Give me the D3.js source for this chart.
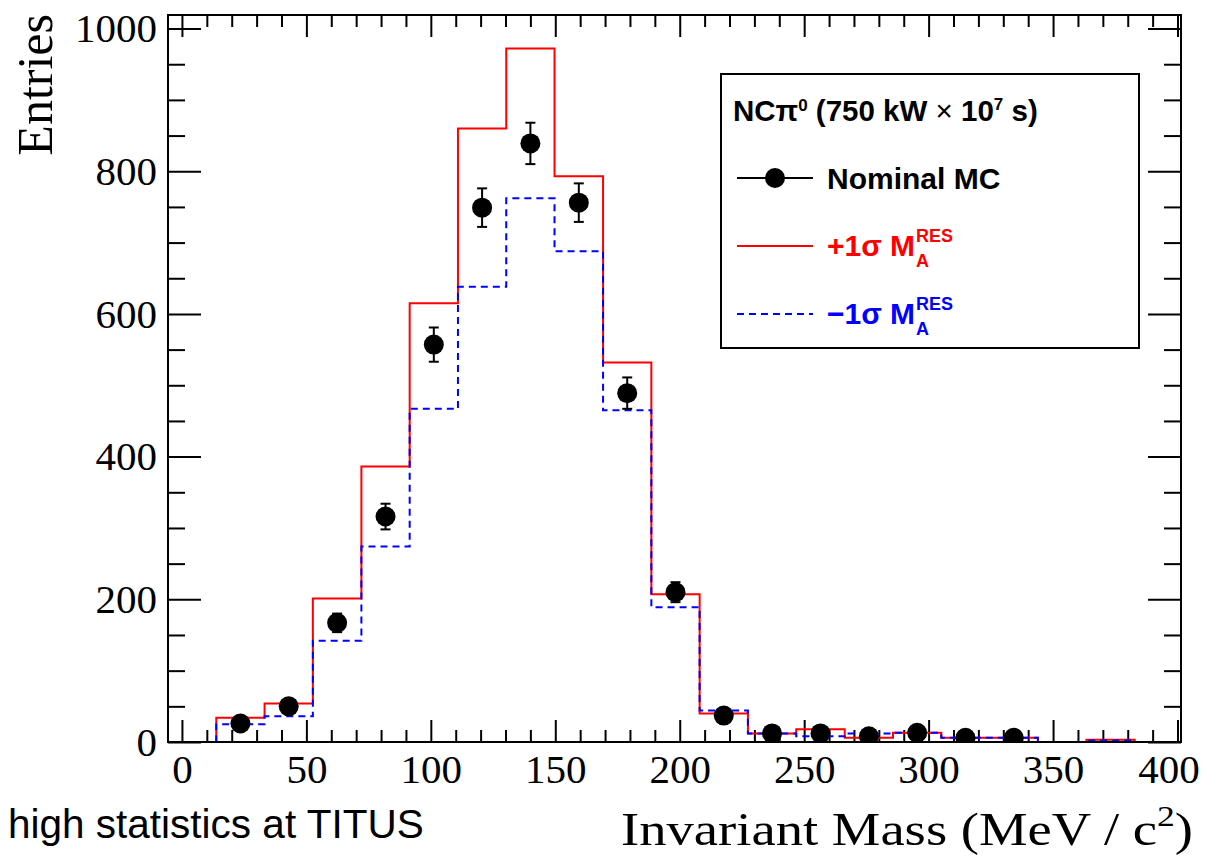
<!DOCTYPE html>
<html>
<head>
<meta charset="utf-8">
<script src="https://cdn.jsdelivr.net/npm/d3@7"></script>
<style>
  body { margin: 0; background: #fff; }
  .serif { font-family: "Liberation Serif", "Times New Roman", serif; }
  .sans { font-family: "Liberation Sans", Arial, Helvetica, sans-serif; }
</style>
</head>
<body>
<script>
// bin edges of the invariant-mass histogram (MeV/c^2)
var binEdges = [-5.6, 13.8, 33.2, 52.6, 72.1, 91.5, 110.9, 130.3, 149.7, 169.2, 188.6,
                208.0, 227.4, 246.8, 266.3, 285.7, 305.1, 324.5, 343.9, 363.4, 382.8, 402.2];
// +1 sigma M_A^RES (red solid)
var plusSigma = [0, 34, 54, 201, 386, 615, 860, 972, 793, 532, 207,
                 40, 12, 18, 6, 13, 6, 6, 0, 3, 0];
// -1 sigma M_A^RES (blue dashed)
var minusSigma = [0, 25, 36, 142, 274, 467, 638, 762, 688, 465, 189,
                  44, 12, 8, 12, 13, 6, 6, 0, 2, 0];
// nominal MC points and their errors
var nominal = [0, 26, 50, 167, 316, 557, 749, 839, 756, 489, 210,
               37, 12, 12, 8, 13, 6, 6, 0, 0, 0];
var nominalErr = [0, 5, 7, 13, 18, 24, 27, 29, 27, 22, 14,
                  6, 3, 3, 3, 4, 2, 2, 0, 0, 0];

var xMajor = [0, 50, 100, 150, 200, 250, 300, 350, 400];
var yMajor = [0, 200, 400, 600, 800, 1000];

var width = 1207, height = 858;
var frame = { left: 168, right: 1181, top: 15, bottom: 742 };

var svg = d3.select("body").append("svg")
    .attr("width", width)
    .attr("height", height);

var x = d3.scaleLinear().domain([-5.6, 401.4]).range([frame.left, frame.right]);
var y = d3.scaleLinear().domain([0, 1019]).range([frame.bottom, frame.top]);

svg.append("defs").append("clipPath")
    .attr("id", "frameclip")
    .append("rect")
    .attr("x", frame.left).attr("y", frame.top)
    .attr("width", frame.right - frame.left)
    .attr("height", frame.bottom - frame.top);

// ---- axes (ROOT style: ticks inside, on all four sides)
var xMinorTicks = d3.range(0, 401, 10).filter(function (d) { return d % 50 != 0; });
var yMinorTicks = d3.range(0, 1001, 50).filter(function (d) { return d % 200 != 0; });

function styleAxis(g) {
    g.select(".domain").remove();
    g.selectAll(".tick line").attr("stroke", "#000").attr("stroke-width", 2);
}

svg.append("g")
    .attr("transform", "translate(0," + frame.bottom + ")")
    .call(d3.axisBottom(x).tickValues(xMajor).tickSize(-22).tickPadding(12).tickFormat(d3.format("d")))
    .call(styleAxis)
    .selectAll("text")
    .attr("class", "serif")
    .style("font-size", "41px")
    .attr("fill", "#000")
    // keep the last label inside the picture
    .attr("dx", function (d) { return d == 400 ? -9 : 0; });
svg.append("g")
    .attr("transform", "translate(0," + frame.bottom + ")")
    .call(d3.axisBottom(x).tickValues(xMinorTicks).tickSize(-12).tickFormat(""))
    .call(styleAxis);
svg.append("g")
    .attr("transform", "translate(0," + frame.top + ")")
    .call(d3.axisTop(x).tickValues(xMajor).tickSize(-22).tickFormat(""))
    .call(styleAxis);
svg.append("g")
    .attr("transform", "translate(0," + frame.top + ")")
    .call(d3.axisTop(x).tickValues(xMinorTicks).tickSize(-12).tickFormat(""))
    .call(styleAxis);

svg.append("g")
    .attr("transform", "translate(" + frame.left + ",0)")
    .call(d3.axisLeft(y).tickValues(yMajor).tickSize(-33).tickPadding(11).tickFormat(d3.format("d")))
    .call(styleAxis)
    .selectAll("text")
    .attr("class", "serif")
    .style("font-size", "41px")
    .attr("fill", "#000");
svg.append("g")
    .attr("transform", "translate(" + frame.left + ",0)")
    .call(d3.axisLeft(y).tickValues(yMinorTicks).tickSize(-17).tickFormat(""))
    .call(styleAxis);
svg.append("g")
    .attr("transform", "translate(" + frame.right + ",0)")
    .call(d3.axisRight(y).tickValues(yMajor).tickSize(-33).tickFormat(""))
    .call(styleAxis);
svg.append("g")
    .attr("transform", "translate(" + frame.right + ",0)")
    .call(d3.axisRight(y).tickValues(yMinorTicks).tickSize(-17).tickFormat(""))
    .call(styleAxis);

// ---- step histograms
function stepPoints(values) {
    var pts = [[binEdges[0], 0]];
    for (var i = 0; i < values.length; i++) {
        pts.push([binEdges[i], values[i]]);
        pts.push([binEdges[i + 1], values[i]]);
    }
    pts.push([binEdges[binEdges.length - 1], 0]);
    return pts;
}
var line = d3.line()
    .x(function (d) { return x(d[0]); })
    .y(function (d) { return y(d[1]); });

var plot = svg.append("g").attr("clip-path", "url(#frameclip)");

plot.append("path")
    .attr("d", line(stepPoints(plusSigma)))
    .attr("fill", "none")
    .attr("stroke", "#ff0000")
    .attr("stroke-width", 2);

plot.append("path")
    .attr("d", line(stepPoints(minusSigma)))
    .attr("fill", "none")
    .attr("stroke", "#0000ff")
    .attr("stroke-width", 2)
    .attr("stroke-dasharray", "7,5");

// ---- nominal MC points with error bars
var pts = nominal.map(function (v, i) {
    return { c: (binEdges[i] + binEdges[i + 1]) / 2, v: v, e: nominalErr[i] };
}).filter(function (d) { return d.v > 0; });

var pg = plot.selectAll(".pt").data(pts).enter().append("g").attr("class", "pt");
pg.append("line")
    .attr("x1", function (d) { return x(d.c); })
    .attr("x2", function (d) { return x(d.c); })
    .attr("y1", function (d) { return y(d.v - d.e); })
    .attr("y2", function (d) { return y(d.v + d.e); })
    .attr("stroke", "#000").attr("stroke-width", 2);
[-1, 1].forEach(function (s) {
    pg.append("line")
        .attr("x1", function (d) { return x(d.c) - 5; })
        .attr("x2", function (d) { return x(d.c) + 5; })
        .attr("y1", function (d) { return y(d.v + s * d.e); })
        .attr("y2", function (d) { return y(d.v + s * d.e); })
        .attr("stroke", "#000").attr("stroke-width", 2);
});
pg.append("circle")
    .attr("cx", function (d) { return x(d.c); })
    .attr("cy", function (d) { return y(d.v); })
    .attr("r", 10)
    .attr("fill", "#000");

// ---- frame
svg.append("rect")
    .attr("x", frame.left).attr("y", frame.top)
    .attr("width", frame.right - frame.left)
    .attr("height", frame.bottom - frame.top)
    .attr("fill", "none")
    .attr("stroke", "#000")
    .attr("stroke-width", 2);

// ---- axis titles
svg.append("text")
    .attr("class", "serif")
    .attr("transform", "translate(52,14) rotate(-90)")
    .attr("text-anchor", "end")
    .style("font-size", "50px")
    .text("Entries");

var xt = svg.append("text")
    .attr("class", "serif")
    .attr("x", 621).attr("y", 845)
    .attr("textLength", 572)
    .attr("lengthAdjust", "spacingAndGlyphs")
    .style("font-size", "46px");
xt.append("tspan").text("Invariant Mass (MeV / c");
xt.append("tspan").attr("dy", -19).style("font-size", "30px").text("2");
xt.append("tspan").attr("dy", 19).text(")");

svg.append("text")
    .attr("class", "sans")
    .attr("x", 8).attr("y", 838)
    .style("font-size", "40.5px")
    .text("high statistics at TITUS");

// ---- legend
var lg = svg.append("g").attr("class", "sans");
lg.append("rect")
    .attr("x", 721).attr("y", 74)
    .attr("width", 418).attr("height", 274)
    .attr("fill", "#fff")
    .attr("stroke", "#000")
    .attr("stroke-width", 2);

var title = lg.append("text")
    .attr("x", 733).attr("y", 121)
    .style("font-size", "29.5px")
    .style("font-weight", "bold");
title.append("tspan").text("NC\u03c0");
title.append("tspan").attr("dy", -10).style("font-size", "17px").text("0");
title.append("tspan").attr("dy", 10).text(" (750 kW  ");
title.append("tspan").style("font-weight", "normal").text("\u00d7");
title.append("tspan").text(" 10");
title.append("tspan").attr("dy", -11).style("font-size", "17px").text("7");
title.append("tspan").attr("dy", 11).text(" s)");

var entries = [
    { y: 178, base: 189, color: "#000", text: "Nominal MC", marker: true },
    { y: 246, base: 256, color: "#ff0000", text: "+1\u03c3 M", sup: true },
    { y: 314, base: 324, color: "#0000ff", text: "\u22121\u03c3 M", sup: true, dash: "7,5" }
];
entries.forEach(function (e) {
    lg.append("line")
        .attr("x1", 737).attr("x2", 813)
        .attr("y1", e.y).attr("y2", e.y)
        .attr("stroke", e.color)
        .attr("stroke-width", 2)
        .attr("stroke-dasharray", e.dash || null);
    if (e.marker) {
        lg.append("circle").attr("cx", 775).attr("cy", e.y).attr("r", 10).attr("fill", "#000");
    }
    var t = lg.append("text")
        .attr("x", 827).attr("y", e.base)
        .attr("fill", e.color)
        .style("font-size", "30px")
        .style("font-weight", "bold")
        .text(e.text);
    if (e.sup) {
        var xe = 827 + t.node().getComputedTextLength() + 1;
        lg.append("text")
            .attr("x", xe).attr("y", e.base - 14)
            .attr("fill", e.color)
            .style("font-size", "18px")
            .style("font-weight", "bold")
            .text("RES");
        lg.append("text")
            .attr("x", xe).attr("y", e.base + 11)
            .attr("fill", e.color)
            .style("font-size", "18px")
            .style("font-weight", "bold")
            .text("A");
    }
});
</script>
</body>
</html>
